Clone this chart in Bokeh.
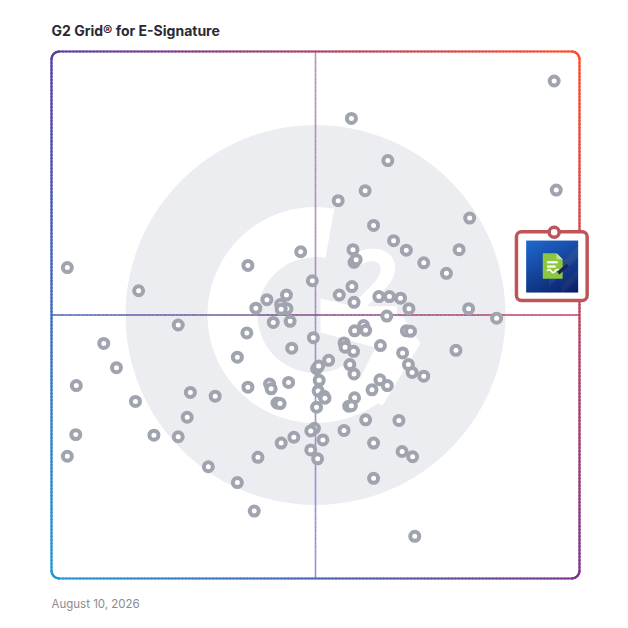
import numpy as np
from bokeh.plotting import figure
from bokeh.models import Range1d
from bokeh.core.properties import value
from bokeh.embed import file_html
from bokeh.resources import INLINE

# ---------------- data ----------------
chart_title = "G2 Grid® for E-Signature"
report_date = "August 10, 2026"

# x = satisfaction (0-100), y = market presence (0-100)
satisfaction = [95.2, 56.8, 63.7, 59.4, 95.6, 54.3, 79.2, 61.0, 64.8, 67.2,
                77.2, 57.1, 57.3, 57.7, 70.5, 74.8, 49.4, 56.9, 54.5, 62.0,
                64.0, 66.1, 57.3, 67.7, 79.0, 63.5, 84.3, 3.0, 16.5, 37.2,
                47.2, 44.5, 40.8, 38.7, 43.4, 44.6, 43.5, 24.0, 42.0, 45.2,
                37.0, 49.6, 45.5, 35.2, 9.9, 12.3, 4.7, 15.9, 26.3, 31.0,
                25.7, 19.4, 24.0, 4.6, 3.0, 29.7, 35.2, 38.4, 39.1, 37.2,
                41.3, 41.6, 44.9, 42.7, 43.3, 50.2, 50.6, 50.7, 50.5, 51.6,
                51.8, 50.2, 49.8, 49.1, 45.9, 43.5, 51.4, 49.1, 50.4, 59.1,
                57.4, 59.5, 67.2, 68.0, 55.4, 55.6, 57.2, 62.3, 66.5, 76.6,
                52.5, 56.5, 57.3, 67.6, 68.3, 70.5, 62.2, 63.6, 60.7, 57.4,
                56.3, 56.8, 59.5, 65.8, 55.4, 61.0, 66.4, 68.4, 61.0, 68.8]
market_presence = [94.4, 87.3, 79.3, 73.6, 73.7, 71.7, 68.4, 67.0, 64.1, 62.3,
                   62.4, 62.4, 60.0, 60.5, 59.9, 57.9, 56.5, 55.4, 53.8, 53.5,
                   53.5, 53.2, 52.4, 51.2, 51.2, 49.8, 49.4, 59.0, 54.6, 59.4,
                   62.0, 53.8, 52.9, 51.3, 52.0, 51.2, 51.1, 48.1, 48.6, 48.8,
                   46.6, 45.7, 43.7, 42.0, 44.6, 40.0, 36.6, 33.6, 35.3, 34.6,
                   30.6, 27.2, 26.9, 27.3, 23.2, 21.2, 18.2, 12.8, 23.0, 36.3,
                   36.9, 36.0, 37.2, 33.3, 33.2, 39.8, 40.3, 37.6, 35.6, 34.6,
                   34.2, 32.5, 28.5, 28.0, 26.8, 25.7, 26.3, 24.4, 22.7, 48.0,
                   47.0, 47.1, 47.0, 46.9, 44.7, 43.9, 43.1, 44.2, 42.8, 43.3,
                   41.4, 40.6, 38.8, 40.6, 39.1, 38.4, 37.7, 36.6, 35.8, 34.3,
                   32.7, 32.8, 30.1, 30.0, 28.1, 25.7, 24.1, 23.1, 19.0, 8.0]

featured_satisfaction = [95.2]
featured_market_presence = [65.7]

# ---------------- layout ----------------
W, H = 612, 620
L, T, R, B = 51, 51, 579, 578          # pixel box of the 0..100 grid
SX = (R - L) / 100.0
SY = (B - T) / 100.0

p = figure(width=W, height=H,
           x_range=Range1d(-L / SX, (W - L) / SX),
           y_range=Range1d(-(H - B) / SY, B / SY),
           output_backend="svg", toolbar_location=None, tools="",
           min_border=0, min_border_left=0, min_border_right=0,
           min_border_top=0, min_border_bottom=0,
           x_axis_location=None, y_axis_location=None)
p.grid.visible = False
p.outline_line_color = None
p.background_fill_color = "white"
p.border_fill_color = "white"


def hex2rgb(h):
    h = h.lstrip("#")
    return np.array([int(h[i:i + 2], 16) for i in (0, 2, 4)], dtype=float)


def rgb2hex(c):
    c = np.clip(np.round(c), 0, 255).astype(int)
    return "#%02x%02x%02x" % tuple(c)


C_TL, C_TR = hex2rgb("#5a3ea6"), hex2rgb("#ff4f2b")
C_BL, C_BR = hex2rgb("#2399d6"), hex2rgb("#7d3691")


def corner_mix(u, v):
    return rgb2hex(C_TL * (1 - u) * (1 - v) + C_TR * u * (1 - v)
                   + C_BL * (1 - u) * v + C_BR * u * v)


# ---------------- G2 watermark ----------------
cx, cy = 50.0, 50.0
p.circle(x=[cx], y=[cy], radius=190, radius_units="screen",
         fill_color="#ebedf0", line_color=None)
p.annular_wedge(x=[cx], y=[cy], inner_radius=58, outer_radius=108,
                inner_radius_units="screen", outer_radius_units="screen",
                start_angle=np.radians(80), end_angle=np.radians(305),
                fill_color="white", line_color=None)
chev = [(5, -16.5), (88, 2.5), (105, 28.5), (67, 90.5), (37, 78.5), (60, 32.5), (5, 17.5)]
p.patch(x=[cx + a / SX for a, b in chev], y=[cy - b / SY for a, b in chev],
        fill_color="white", line_color=None)
p.text(x=[cx + 57 / SX], y=[cy + 31.5 / SY], text=["2"],
       text_font=value("Open Sans"), text_font_style="bold",
       text_font_size="97px", text_color="white",
       text_align="center", text_baseline="alphabetic")

# ---------------- quadrant lines ----------------
n = 200
ys = np.linspace(0, 100, n + 1)
vtop, vbot = hex2rgb("#b98ab2"), hex2rgb("#8c8fd6")
vcols = [rgb2hex(vtop + (vbot - vtop) * (1 - (ys[i] + ys[i + 1]) / 200)) for i in range(n)]
p.segment(x0=[50] * n, y0=list(ys[:-1]), x1=[50] * n, y1=list(ys[1:]),
          line_color=vcols, line_width=1.6)
xs = np.linspace(0, 100, n + 1)
hl, hr = hex2rgb("#3f5db3"), hex2rgb("#cc4160")
hcols = [rgb2hex(hl + (hr - hl) * ((xs[i] + xs[i + 1]) / 200)) for i in range(n)]
p.segment(x0=list(xs[:-1]), y0=[50] * n, x1=list(xs[1:]), y1=[50] * n,
          line_color=hcols, line_width=1.6)

# ---------------- gradient rounded border ----------------
r = 8
rx, ry = r / SX, r / SY
path = []


def side(a, b, k=150):
    for t in np.linspace(0, 1, k, endpoint=False):
        path.append((a[0] + (b[0] - a[0]) * t, a[1] + (b[1] - a[1]) * t))


def arc(c, a0, a1, k=12):
    for a in np.linspace(np.radians(a0), np.radians(a1), k, endpoint=False):
        path.append((c[0] + rx * np.cos(a), c[1] + ry * np.sin(a)))


side((rx, 100), (100 - rx, 100))
arc((100 - rx, 100 - ry), 90, 0)
side((100, 100 - ry), (100, ry))
arc((100 - rx, ry), 0, -90)
side((100 - rx, 0), (rx, 0))
arc((rx, ry), -90, -180)
side((0, ry), (0, 100 - ry))
arc((rx, 100 - ry), 180, 90)
path.append(path[0])
bx0, by0, bx1, by1, bcol = [], [], [], [], []
for i in range(len(path) - 1):
    (x0, y0), (x1, y1) = path[i], path[i + 1]
    bx0.append(x0); by0.append(y0); bx1.append(x1); by1.append(y1)
    mx, my = (x0 + x1) / 2, (y0 + y1) / 2
    bcol.append(corner_mix(min(max(mx / 100, 0), 1), min(max(1 - my / 100, 0), 1)))
p.segment(x0=bx0, y0=by0, x1=bx1, y1=by1, line_color=bcol, line_width=2.2,
          line_cap="round")

# ---------------- products ----------------
p.scatter(x=satisfaction, y=market_presence, size=9, line_width=4,
          line_color="#a0a4ae", fill_color="white")

# ---------------- featured product ----------------
fx, fy = featured_satisfaction[0], featured_market_presence[0]
HL = "#bf5558"
p.quad(left=[fx - 37.7 / SX], right=[fx + 33 / SX], top=[fy + 0.5 / SY],
       bottom=[fy - 68.3 / SY], fill_color="white", line_color=HL,
       line_width=3.5, border_radius=5)

# logo tile (52 px)
N = 52
lg_left, lg_top = -28.0, 8.3            # pixel offset from featured point
rr, cc = np.mgrid[0:N, 0:N].astype(float)
t = np.clip((rr * 1.2 + cc * 0.6) / (1.8 * N), 0, 1)[..., None]
c1, c2 = hex2rgb("#1f6ad0"), hex2rgb("#0b1d66")
img = c1 * (1 - t) + c2 * t
band1 = (np.abs((cc + rr) - 62) < 6) & (cc > 22)
band2 = (np.abs((cc + rr) - 84) < 5) & (cc > 34)
img[band1] = img[band1] * 0.85 + 255 * 0.08
img[band2] = img[band2] * 0.9 + 255 * 0.05
rgba = np.zeros((N, N, 4), dtype=np.uint8)
rgba[..., :3] = np.clip(img, 0, 255).astype(np.uint8)
rgba[..., 3] = 255
rgba = rgba[::-1].copy()
p.image_rgba(image=[rgba.view(np.uint32).reshape(N, N)],
             x=fx + lg_left / SX, y=fy - (lg_top + N) / SY,
             dw=N / SX, dh=N / SY)


def lx(a):
    return fx + (lg_left + a) / SX


def ly(b):
    return fy - (lg_top + b) / SY


doc = [(16.6, 12.7), (30.5, 12.7), (36.5, 18.7), (36.5, 38.3), (16.6, 38.3)]
p.patch(x=[lx(a) for a, b in doc], y=[ly(b) for a, b in doc],
        fill_color="#8dc63f", line_color=None)
fold = [(30.5, 12.7), (30.5, 18.7), (36.5, 18.7)]
p.patch(x=[lx(a) for a, b in fold], y=[ly(b) for a, b in fold],
        fill_color="#c5e28e", line_color=None)
p.segment(x0=[lx(21), lx(21)], y0=[ly(21.7), ly(26)],
          x1=[lx(31.5), lx(29.5)], y1=[ly(21.7), ly(26)],
          line_color="white", line_width=2.2)
sq = np.linspace(0, 1, 25)
p.line(x=[lx(21 + 12 * s) for s in sq], y=[ly(30.5 - 1.6 * np.sin(s * 2 * np.pi * 1.5)) for s in sq],
       line_color="white", line_width=1.6)
p.segment(x0=[lx(41.6)], y0=[ly(24.5)], x1=[lx(32)], y1=[ly(32.5)],
          line_color="#1b2558", line_width=3.5)

p.scatter(x=featured_satisfaction, y=featured_market_presence, size=10,
          line_width=3.5, line_color=HL, fill_color="white")

# ---------------- texts ----------------
p.text(x=[0], y=[(B - 30) / SY], text=[chart_title],
       text_font=value("Inter"), text_font_style="bold",
       text_font_size="14px", text_color="#2a2a35",
       text_align="left", text_baseline="alphabetic")
p.text(x=[0], y=[(B - 603.5) / SY], text=[report_date],
       text_font=value("Inter"), text_font_size="11.5px",
       text_color="#8a8a8f", text_align="left", text_baseline="alphabetic")

open("out.html", "w").write(file_html(p, INLINE))
